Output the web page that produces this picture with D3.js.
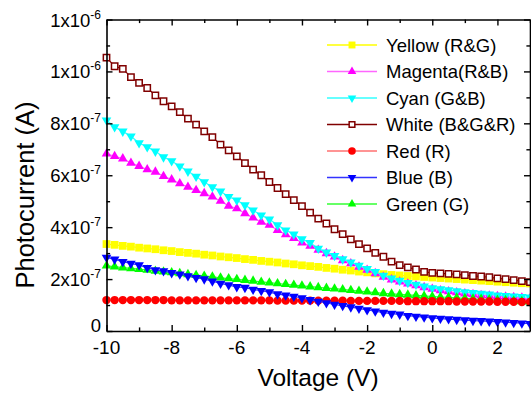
<!DOCTYPE html>
<html>
<head>
<meta charset="utf-8">
<script src="https://cdn.jsdelivr.net/npm/d3@7"></script>
<style>
  body { margin: 0; background: #fff; }
  svg { display: block; font-family: "Liberation Sans", Arial, sans-serif; }
</style>
</head>
<body>
<svg id="chart" width="531" height="394"></svg>
<script>
// voltage sweep (V)
const voltage = [-10, -9.75, -9.5, -9.25, -9, -8.75, -8.5, -8.25, -8, -7.75, -7.5, -7.25, -7, -6.75, -6.5, -6.25,
  -6, -5.75, -5.5, -5.25, -5, -4.75, -4.5, -4.25, -4, -3.75, -3.5, -3.25, -3, -2.75, -2.5, -2.25,
  -2, -1.75, -1.5, -1.25, -1, -0.75, -0.5, -0.25, 0, 0.25, 0.5, 0.75, 1, 1.25, 1.5, 1.75,
  2, 2.25, 2.5, 2.75, 3];

// photocurrent values in units of 1e-7 A
const yellow = [3.35, 3.32, 3.28, 3.25, 3.21, 3.18, 3.15, 3.11, 3.08, 3.04, 3.01, 2.98, 2.94, 2.91, 2.87, 2.84,
  2.81, 2.77, 2.74, 2.70, 2.67, 2.64, 2.60, 2.57, 2.53, 2.50, 2.47, 2.43, 2.40, 2.36, 2.33, 2.29,
  2.26, 2.22, 2.19, 2.16, 2.14, 2.12, 2.10, 2.08, 2.06, 2.04, 2.02, 2.00, 1.98, 1.96, 1.94, 1.92,
  1.90, 1.88, 1.86, 1.84, 1.83];
const magenta = [6.83, 6.73, 6.64, 6.47, 6.35, 6.22, 6.13, 5.96, 5.83, 5.68, 5.55, 5.42, 5.30, 5.17, 5.01, 4.82,
  4.72, 4.53, 4.36, 4.20, 4.08, 3.88, 3.72, 3.57, 3.40, 3.28, 3.12, 2.99, 2.86, 2.72, 2.60, 2.47,
  2.35, 2.22, 2.08, 1.98, 1.90, 1.82, 1.75, 1.68, 1.62, 1.56, 1.52, 1.48, 1.44, 1.41, 1.38, 1.36,
  1.34, 1.32, 1.30, 1.28, 1.25];
const cyan = [8.12, 7.86, 7.69, 7.50, 7.24, 7.09, 6.92, 6.70, 6.55, 6.35, 6.15, 5.95, 5.74, 5.55, 5.38, 5.17,
  5.04, 4.85, 4.65, 4.46, 4.30, 4.08, 3.88, 3.73, 3.54, 3.40, 3.18, 3.03, 2.90, 2.77, 2.65, 2.52,
  2.40, 2.28, 2.14, 2.03, 1.94, 1.86, 1.79, 1.72, 1.66, 1.62, 1.58, 1.54, 1.50, 1.47, 1.44, 1.41,
  1.38, 1.36, 1.34, 1.32, 1.30];
const white = [10.53, 10.2, 10.1, 9.78, 9.56, 9.36, 9.08, 8.85, 8.65, 8.43, 8.18, 7.95, 7.69, 7.47, 7.18, 6.96,
  6.73, 6.47, 6.22, 6.00, 5.74, 5.51, 5.27, 5.04, 4.81, 4.56, 4.33, 4.14, 3.92, 3.73, 3.53, 3.35,
  3.18, 3.01, 2.86, 2.67, 2.54, 2.45, 2.37, 2.28, 2.24, 2.22, 2.20, 2.18, 2.15, 2.12, 2.10, 2.07,
  2.03, 2.00, 1.96, 1.92, 1.88];
const red = [1.19, 1.19, 1.19, 1.19, 1.19, 1.19, 1.19, 1.19, 1.18, 1.18, 1.18, 1.18, 1.18, 1.18, 1.18, 1.18,
  1.18, 1.18, 1.18, 1.18, 1.18, 1.17, 1.17, 1.17, 1.17, 1.17, 1.17, 1.17, 1.17, 1.17, 1.16, 1.16,
  1.16, 1.16, 1.16, 1.16, 1.16, 1.15, 1.15, 1.15, 1.15, 1.15, 1.15, 1.14, 1.14, 1.14, 1.14, 1.14,
  1.13, 1.13, 1.13, 1.12, 1.12];
const blue = [2.83, 2.76, 2.67, 2.60, 2.54, 2.44, 2.35, 2.31, 2.24, 2.19, 2.12, 2.05, 2.00, 1.92, 1.83, 1.77,
  1.70, 1.67, 1.60, 1.55, 1.50, 1.42, 1.38, 1.33, 1.27, 1.20, 1.14, 1.08, 1.02, 0.97, 0.92, 0.87,
  0.81, 0.76, 0.71, 0.67, 0.64, 0.59, 0.56, 0.53, 0.50, 0.48, 0.46, 0.44, 0.42, 0.40, 0.39, 0.37,
  0.36, 0.34, 0.32, 0.30, 0.28];
const green = [2.51, 2.48, 2.44, 2.41, 2.38, 2.35, 2.31, 2.28, 2.25, 2.22, 2.18, 2.15, 2.12, 2.09, 2.05, 2.02,
  1.99, 1.96, 1.93, 1.89, 1.86, 1.83, 1.80, 1.77, 1.74, 1.71, 1.68, 1.65, 1.63, 1.60, 1.57, 1.54,
  1.51, 1.48, 1.45, 1.43, 1.41, 1.39, 1.37, 1.35, 1.33, 1.31, 1.30, 1.28, 1.26, 1.24, 1.23, 1.21,
  1.19, 1.18, 1.16, 1.14, 1.13];

const UNIT = 1e-7;

const seriesNames = ["Yellow (R&G)", "Magenta(R&B)", "Cyan (G&B)", "White (B&G&R)", "Red (R)", "Blue (B)", "Green (G)"];
const seriesValues = [yellow, magenta, cyan, white, red, blue, green];

// axis ticks
const xTicks = [-10, -8, -6, -4, -2, 0, 2];
const yTicks = [0, 2e-7, 4e-7, 6e-7, 8e-7, 1e-6, 1.2e-6];
const yTickMantissa = ["0", "2x10", "4x10", "6x10", "8x10", "1x10", "1x10"];
const yTickExponent = ["", "-7", "-7", "-7", "-7", "-6", "-6"];

// look of each series
const styles = [
  { color: "#ffff00", line: "#ffff00", shape: "square", fill: "#ffff00" },
  { color: "#ff00ff", line: "#ff66ff", shape: "up", fill: "#ff00ff" },
  { color: "#00ffff", line: "#33ffff", shape: "down", fill: "#00ffff" },
  { color: "#800000", line: "#800000", shape: "hollow", fill: "#ffffff" },
  { color: "#ff0000", line: "#ff7070", shape: "circle", fill: "#ff0000" },
  { color: "#0000ff", line: "#3333ff", shape: "down", fill: "#0000ff" },
  { color: "#00ff00", line: "#33ff33", shape: "up", fill: "#00ff00" }
];
const drawOrder = [0, 1, 2, 3, 6, 4, 5];

const svg = d3.select("#chart");
const pLeft = 106.5, pRight = 530, pTop = 19.5, pBottom = 331;

const x = d3.scaleLinear().domain([-10, 3]).range([pLeft, pRight]);
const y = d3.scaleLinear().domain([0, 1.2e-6]).range([pBottom, pTop]);

function symbolPath(shape, k) {
  if (shape === "square" || shape === "hollow") {
    return d3.symbol().type(d3.symbolSquare).size(shape === "hollow" ? 40 * k : 60 * k)();
  }
  if (shape === "circle") return d3.symbol().type(d3.symbolCircle).size(56 * k)();
  return d3.symbol().type(d3.symbolTriangle).size(40 * k)();
}

function drawMarker(g, st, cx, cy, k) {
  const p = g.append("path")
    .attr("d", symbolPath(st.shape, k))
    .attr("fill", st.fill)
    .attr("transform", `translate(${cx},${cy})` + (st.shape === "down" ? " rotate(180)" : ""));
  if (st.shape === "hollow") p.attr("stroke", st.color).attr("stroke-width", 1.5);
}

// series
const plot = svg.append("g");
const line = d3.line().x((d, i) => x(voltage[i])).y(d => y(d * UNIT));
drawOrder.forEach(s => {
  const st = styles[s];
  const g = plot.append("g");
  g.append("path")
    .datum(seriesValues[s])
    .attr("d", line)
    .attr("fill", "none")
    .attr("stroke", st.line)
    .attr("stroke-width", 1.2);
  seriesValues[s].forEach((v, i) => drawMarker(g, st, x(voltage[i]), y(v * UNIT), 1));
});

// axes
const axes = svg.append("g");
const xMinor = d3.range(-10, 3.5, 1);
const yMinor = d3.range(0, 12.5, 1).map(v => v * UNIT);
const bottomAxis = d3.axisBottom(x).tickValues(xMinor).tickSizeInner(-6).tickSizeOuter(0).tickFormat("");
const topAxis = d3.axisTop(x).tickValues(xMinor).tickSizeInner(-6).tickSizeOuter(0).tickFormat("");
const leftAxis = d3.axisLeft(y).tickValues(yMinor).tickSizeInner(-6).tickSizeOuter(0).tickFormat("");
const rightAxis = d3.axisRight(y).tickValues(yMinor).tickSizeInner(-6).tickSizeOuter(0).tickFormat("");

axes.append("g").attr("class", "xa").attr("transform", `translate(0,${pBottom})`).call(bottomAxis);
axes.append("g").attr("class", "xa").attr("transform", `translate(0,${pTop})`).call(topAxis);
axes.append("g").attr("class", "ya").attr("transform", `translate(${pLeft},0)`).call(leftAxis);
axes.append("g").attr("class", "ya").attr("transform", `translate(${pRight},0)`).call(rightAxis);

axes.selectAll(".domain").attr("stroke", "#000").attr("stroke-width", 1.6);
axes.selectAll(".tick line").attr("stroke", "#000").attr("stroke-width", 1.4);
// minor ticks are shorter
axes.selectAll(".xa .tick line").filter(d => Math.round(d) % 2 !== 0).attr("y2", function () { return +d3.select(this).attr("y2") * 0.6; });
axes.selectAll(".ya .tick line").filter(d => Math.round(d / UNIT) % 2 !== 0).attr("x2", function () { return +d3.select(this).attr("x2") * 0.6; });

// tick labels
svg.append("g").selectAll("text")
  .data(xTicks)
  .join("text")
  .attr("x", d => x(d))
  .attr("y", 354)
  .attr("text-anchor", "middle")
  .attr("font-size", 19)
  .text(d => d);

const yl = svg.append("g").selectAll("text")
  .data(yTicks)
  .join("text")
  .attr("x", 101)
  .attr("y", d => d === 0 ? y(d) + 1 : y(d) + 7)
  .attr("text-anchor", "end")
  .attr("font-size", 18.5);
yl.append("tspan").text((d, i) => yTickMantissa[i]);
yl.append("tspan").attr("font-size", 12).attr("dy", -8).text((d, i) => yTickExponent[i]);

// axis titles
svg.append("text")
  .attr("x", 318)
  .attr("y", 386)
  .attr("text-anchor", "middle")
  .attr("font-size", 24.5)
  .text("Voltage (V)");

svg.append("text")
  .attr("transform", "translate(34,195) rotate(-90)")
  .attr("text-anchor", "middle")
  .attr("font-size", 25.5)
  .text("Photocurrent (A)");

// legend
const legend = svg.append("g");
seriesNames.forEach((name, i) => {
  const st = styles[i];
  const ly = 45 + i * 26.5;
  legend.append("line")
    .attr("x1", 327).attr("x2", 377)
    .attr("y1", ly).attr("y2", ly)
    .attr("stroke", st.line).attr("stroke-width", 1.5);
  drawMarker(legend, st, 352, ly, 0.8);
  legend.append("text")
    .attr("x", 386)
    .attr("y", ly + 6.5)
    .attr("font-size", 18.5)
    .text(name);
});
</script>
</body>
</html>
